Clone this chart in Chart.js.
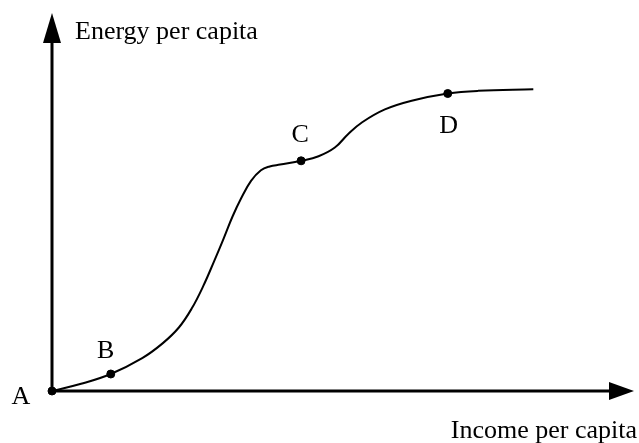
<!DOCTYPE html>
<html>
<head>
<meta charset="utf-8">
<script src="https://cdn.jsdelivr.net/npm/chart.js@4"></script>
<style>
  body { margin: 0; background: #fff; }
  #wrap { width: 639px; height: 443px; }
</style>
</head>
<body>
<div id="wrap"><canvas id="energyChart" width="639" height="443"></canvas></div>
<script>
// curve (income 0-100, energy 0-100)
const incomeValues = [0, 5.0, 10.1, 15.5, 19.0, 21.8, 24.0, 26.0, 27.9, 29.4, 31.0, 32.5, 34.2, 35.9, 37.4, 39.2, 42.8, 45.8, 48.6, 50.9, 53.3, 57.2, 61.8, 68.0, 73.2, 82.7];
const energyValues = [0, 1.9, 4.5, 8.7, 12.6, 16.8, 21.8, 27.8, 34.5, 40.0, 46.1, 51.0, 55.6, 58.4, 59.4, 59.9, 60.9, 62.1, 64.4, 68.0, 71.1, 74.5, 76.8, 78.7, 79.4, 79.8];

// marked stages on the curve
const markNames = ['A', 'B', 'C', 'D'];
const markIncome = [0, 10.1, 42.8, 68.0];
const markEnergy = [0, 4.5, 60.9, 78.7];

const yAxisTitle = 'Energy per capita';
const xAxisTitle = 'Income per capita';

const FONT = '26px "Liberation Serif", "Times New Roman", serif';

// where each letter sits relative to its dot
const labelOffsets = { A: [-31, 6], B: [-5, -23], C: [-1, -26], D: [1, 33] };

const curvePoints = incomeValues.map((x, i) => ({ x, y: energyValues[i] }));
const markPoints = markIncome.map((x, i) => ({ x, y: markEnergy[i] }));

// axes with arrow heads + texts
const sketchPlugin = {
  id: 'sketch',
  beforeDatasetsDraw(chart) {
    const { ctx, chartArea } = chart;
    const { left, right, top, bottom } = chartArea;
    ctx.save();
    ctx.strokeStyle = '#000';
    ctx.fillStyle = '#000';
    ctx.lineWidth = 3;
    ctx.beginPath();
    ctx.moveTo(left, bottom);
    ctx.lineTo(left, top + 20);
    ctx.moveTo(left, bottom);
    ctx.lineTo(right - 20, bottom);
    ctx.stroke();
    // up arrow
    ctx.beginPath();
    ctx.moveTo(left, top);
    ctx.lineTo(left - 9, top + 30);
    ctx.lineTo(left + 9, top + 30);
    ctx.closePath();
    ctx.fill();
    // right arrow
    ctx.beginPath();
    ctx.moveTo(right, bottom);
    ctx.lineTo(right - 25, bottom - 9);
    ctx.lineTo(right - 25, bottom + 9);
    ctx.closePath();
    ctx.fill();
    ctx.restore();
  },
  afterDatasetsDraw(chart) {
    const { ctx, chartArea, scales } = chart;
    ctx.save();
    ctx.fillStyle = '#000';
    ctx.font = FONT;
    ctx.textBaseline = 'middle';
    ctx.textAlign = 'left';
    ctx.fillText(yAxisTitle, chartArea.left + 23, chartArea.top + 19);
    ctx.textAlign = 'right';
    ctx.fillText(xAxisTitle, chartArea.right + 3, chartArea.bottom + 40);
    ctx.textAlign = 'center';
    markNames.forEach((name, i) => {
      const px = scales.x.getPixelForValue(markIncome[i]);
      const py = scales.y.getPixelForValue(markEnergy[i]);
      const off = labelOffsets[name];
      ctx.fillText(name, px + off[0], py + off[1]);
    });
    ctx.restore();
  }
};

new Chart(document.getElementById('energyChart'), {
  type: 'line',
  data: {
    datasets: [
      {
        data: curvePoints,
        borderColor: '#000',
        borderWidth: 2,
        pointRadius: 0,
        tension: 0.4,
        fill: false,
        clip: false
      },
      {
        data: markPoints,
        showLine: false,
        pointRadius: 4,
        pointBackgroundColor: '#000',
        pointBorderColor: '#000',
        clip: false
      }
    ]
  },
  options: {
    responsive: false,
    animation: false,
    layout: { padding: { left: 52, right: 2, top: 13, bottom: 52 } },
    plugins: { legend: { display: false }, tooltip: { enabled: false } },
    scales: {
      x: { type: 'linear', min: 0, max: 100, display: false },
      y: { min: 0, max: 100, display: false }
    }
  },
  plugins: [sketchPlugin]
});
</script>
</body>
</html>
